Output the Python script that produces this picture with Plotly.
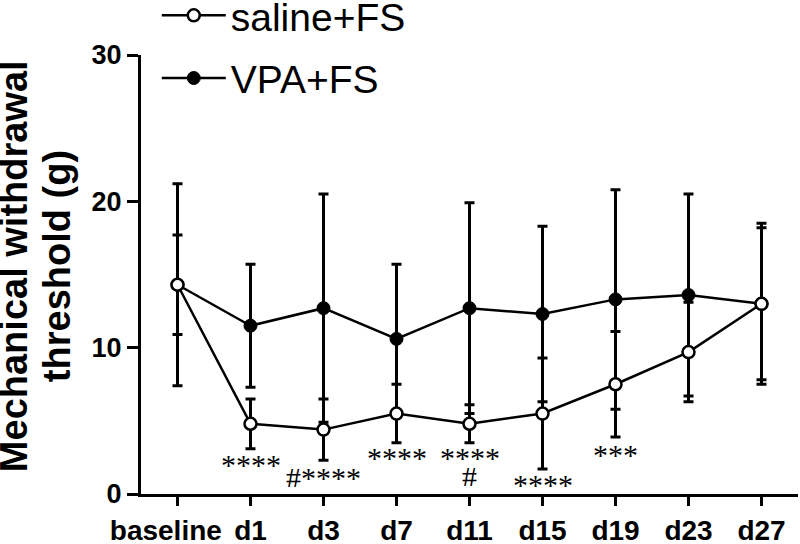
import plotly.graph_objects as go

# time points
days = ["baseline", "d1", "d3", "d7", "d11", "d15", "d19", "d23", "d27"]
# "baseline" sits a little left of its tick in the original
day_labels = ["baseline\u00a0\u00a0\u00a0", "d1", "d3", "d7", "d11", "d15", "d19", "d23", "d27"]

# saline+FS group (open circles)
saline_mean = [14.3, 4.8, 4.4, 5.5, 4.8, 5.5, 7.5, 9.7, 13.0]
saline_sd = [3.4, 1.7, 2.1, 2.0, 1.3, 3.8, 3.6, 3.4, 5.2]

# VPA+FS group (filled circles)
vpa_mean = [14.3, 11.5, 12.7, 10.6, 12.7, 12.3, 13.3, 13.6, 13.0]
vpa_sd = [6.9, 4.2, 7.8, 5.1, 7.2, 6.0, 7.5, 6.9, 5.5]

# significance marks: (day, text, y position in g)
sig_marks = [
    ("d1", "****", 2.05),
    ("d3", "#****", 1.15),
    ("d7", "****", 2.55),
    ("d11", "****", 2.55),
    ("d11", "#", 1.2),
    ("d15", "****", 0.7),
    ("d19", "***", 2.75),
]

y_ticks = [0, 10, 20, 30]
y_title_lines = ["Mechanical withdrawal", "threshold (g)"]

SANS = "Liberation Sans, Arial, sans-serif"
SERIF = "Liberation Serif, Times New Roman, serif"

fig = go.Figure()

# VPA first so the open saline markers sit on top
fig.add_trace(
    go.Scatter(
        x=days,
        y=vpa_mean,
        name="VPA+FS",
        legendgroup="vpa",
        legendrank=2,
        mode="lines+markers",
        line={"color": "black", "width": 2.5},
        marker={"symbol": "circle", "size": 13, "color": "black",
                "line": {"color": "black", "width": 1}},
        error_y={"type": "data", "array": vpa_sd, "visible": True,
                 "color": "black", "thickness": 3, "width": 5},
    )
)
fig.add_trace(
    go.Scatter(
        x=days,
        y=saline_mean,
        name="saline+FS",
        legendgroup="saline",
        legendrank=1,
        mode="lines+markers",
        line={"color": "black", "width": 2.5},
        marker={"symbol": "circle", "size": 12, "color": "white",
                "line": {"color": "black", "width": 2.5}},
        error_y={"type": "data", "array": saline_sd, "visible": True,
                 "color": "black", "thickness": 3, "width": 5},
    )
)

for day, text, y in sig_marks:
    fig.add_annotation(
        x=day, y=y, xref="x", yref="y", text=text, showarrow=False,
        font={"family": SERIF, "size": 30, "color": "black"},
        height=20, valign="middle",
        xanchor="center", yanchor="middle",
    )

# y axis title, one annotation per line so the line gap can be set
for line_text, shift in zip(y_title_lines, [-127, -84]):
    fig.add_annotation(
        x=0, y=0.519, xref="paper", yref="paper", xshift=shift,
        text=line_text, textangle=-90, showarrow=False,
        font={"family": SANS, "size": 38, "color": "black", "weight": "bold"},
        xanchor="center", yanchor="middle",
    )

fig.update_layout(
    width=800,
    height=544,
    paper_bgcolor="white",
    plot_bgcolor="white",
    margin={"l": 141, "r": 2, "t": 55, "b": 50, "autoexpand": False},
    showlegend=True,
    legend={
        "x": 0.024, "y": 1.163, "xanchor": "left", "yanchor": "top",
        "font": {"family": SANS, "size": 39, "color": "black"},
        "traceorder": "grouped",
        "tracegroupgap": 9,
        "bgcolor": "rgba(0,0,0,0)",
        "itemwidth": 64,
    },
)
fig.update_xaxes(
    type="category",
    range=[-0.5, 8.5],
    tickvals=days,
    ticktext=day_labels,
    tickangle=0,
    showline=True, linecolor="black", linewidth=3,
    ticks="outside", ticklen=9, tickwidth=3, tickcolor="black",
    showgrid=False, zeroline=False,
    tickfont={"family": SANS, "size": 28, "color": "black", "weight": "bold"},
)
fig.update_yaxes(
    range=[0, 30],
    tickvals=y_ticks,
    showline=True, linecolor="black", linewidth=3,
    ticks="outside", ticklen=11, tickwidth=3, tickcolor="black",
    showgrid=False, zeroline=False,
    tickfont={"family": SANS, "size": 27, "color": "black", "weight": "bold"},
)

# drop the page's default body margin so the figure sits at the window origin
fig.write_html(
    "out.html",
    config={"displayModeBar": False},
    post_script="document.body.style.margin='0px';",
)
